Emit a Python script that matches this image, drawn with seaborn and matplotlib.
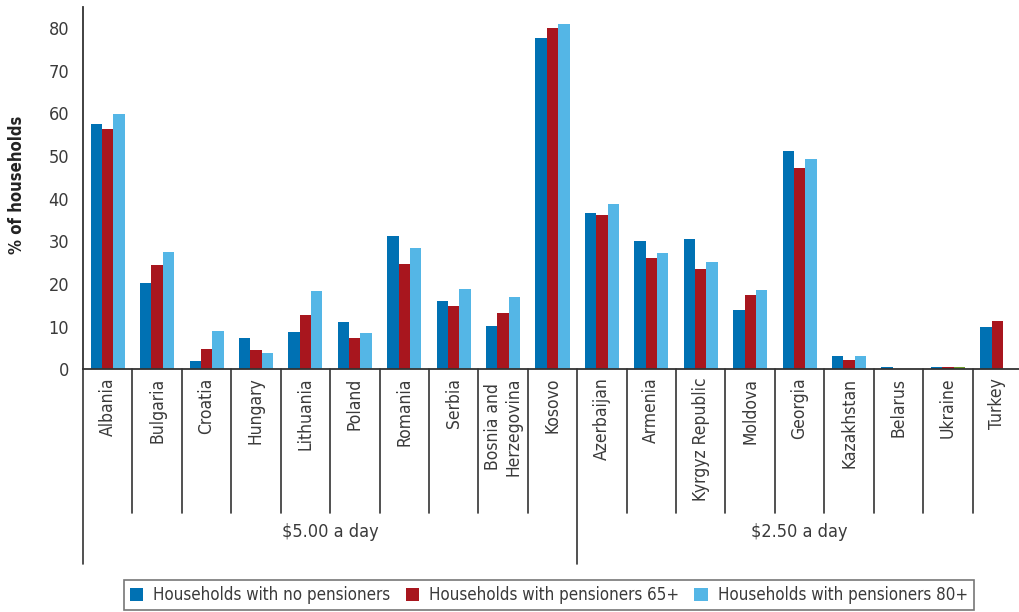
import numpy as np
import pandas as pd
import matplotlib
matplotlib.use("Agg")
import matplotlib.pyplot as plt
import seaborn as sns

countries = ["Albania", "Bulgaria", "Croatia", "Hungary", "Lithuania", "Poland",
             "Romania", "Serbia", "Bosnia and\nHerzegovina", "Kosovo",
             "Azerbaijan", "Armenia", "Kyrgyz Republic", "Moldova", "Georgia",
             "Kazakhstan", "Belarus", "Ukraine", "Turkey"]
no_pens = [57.4, 20.2, 1.9, 7.4, 8.8, 11.1, 31.2, 16.0, 10.2, 77.6,
           36.6, 30.1, 30.5, 13.9, 51.1, 3.1, 0.5, 0.5, 9.9]
pens_65 = [56.3, 24.4, 4.7, 4.6, 12.7, 7.4, 24.6, 14.8, 13.2, 79.9,
           36.1, 26.1, 23.5, 17.4, 47.2, 2.2, 0.0, 0.5, 11.3]
pens_80 = [59.8, 27.5, 9.0, 3.9, 18.4, 8.6, 28.4, 18.9, 17.0, 80.9,
           38.7, 27.3, 25.1, 18.6, 49.2, 3.1, 0.0, 0.5, np.nan]
series = ["Households with no pensioners", "Households with pensioners 65+",
          "Households with pensioners 80+"]
colors = ["#0071b3", "#a8161e", "#54b6e6"]
groups = [r"\$5.00 a day", r"\$2.50 a day"]
group_sizes = [10, 9]

df = pd.DataFrame({"country": countries, series[0]: no_pens,
                   series[1]: pens_65, series[2]: pens_80})
long = df.melt(id_vars="country", var_name="series", value_name="pct")

sns.set_style("white")
plt.rcParams["font.family"] = ["DejaVu Sans"]
plt.rcParams["font.stretch"] = "condensed"
txt = "#3a3a3a"

fig = plt.figure(figsize=(10.2, 6.12), dpi=100)
ax = fig.add_axes([83 / 1020, 1 - 369.3 / 612, 939 / 1020, 362.6 / 612])
sns.barplot(data=long, x="country", y="pct", hue="series", order=countries,
            hue_order=series, palette=colors, width=0.69, gap=0,
            errorbar=None, saturation=1, linewidth=0, ax=ax, legend=True)

# Ukraine 80+ bar is drawn in green in the source
ax.containers[2][17].set_facecolor("#6b9a2c")

ax.set_ylim(0, 85)
ax.set_xlim(-0.5, len(countries) - 0.5)
ax.set_yticks(range(0, 90, 10))
ax.set_xlabel("")
ax.set_ylabel("% of households", fontsize=12, fontweight="bold", color="#222")
ax.yaxis.set_label_coords(-0.0607, 0.51)
for s in ["top", "right"]:
    ax.spines[s].set_visible(False)
for s in ["left", "bottom"]:
    ax.spines[s].set_color("#333333")
    ax.spines[s].set_linewidth(1.3)
ax.tick_params(axis="y", length=7, width=1.3, color="#333333",
               labelsize=13, labelcolor=txt, pad=3)
ax.tick_params(axis="x", length=0, labelsize=12.5, labelcolor=txt, pad=6,
               labelrotation=90)

# separators under the axis
tr = ax.get_xaxis_transform()
n = len(countries)
bounds = np.cumsum([0] + group_sizes) - 0.5
for i in range(n + 1):
    x = i - 0.5
    low = -0.538 if x in bounds[:-1] else -0.397
    ax.plot([x, x], [0, low], transform=tr, color="#333333", lw=1.2,
            clip_on=False)
start = 0
for g, size in zip(groups, group_sizes):
    ax.text(start + (size - 1) / 2, -0.449, g, transform=tr, ha="center",
            va="center", fontsize=13, color=txt)
    start += size

handles, labels = ax.get_legend_handles_labels()
ax.legend_.remove()
leg = fig.legend(handles, labels, loc="upper left", ncol=3,
                 bbox_to_anchor=(124 / 1020, 1 - 580 / 612), frameon=True,
                 fancybox=False, edgecolor="#555555", fontsize=12.2,
                 handlelength=0.8, handleheight=0.8, handletextpad=0.58,
                 columnspacing=0.9, borderpad=0.35, borderaxespad=0)
leg.get_frame().set_linewidth(1.2)
for t in leg.get_texts():
    t.set_color(txt)

fig.savefig("out.png", dpi=100)
